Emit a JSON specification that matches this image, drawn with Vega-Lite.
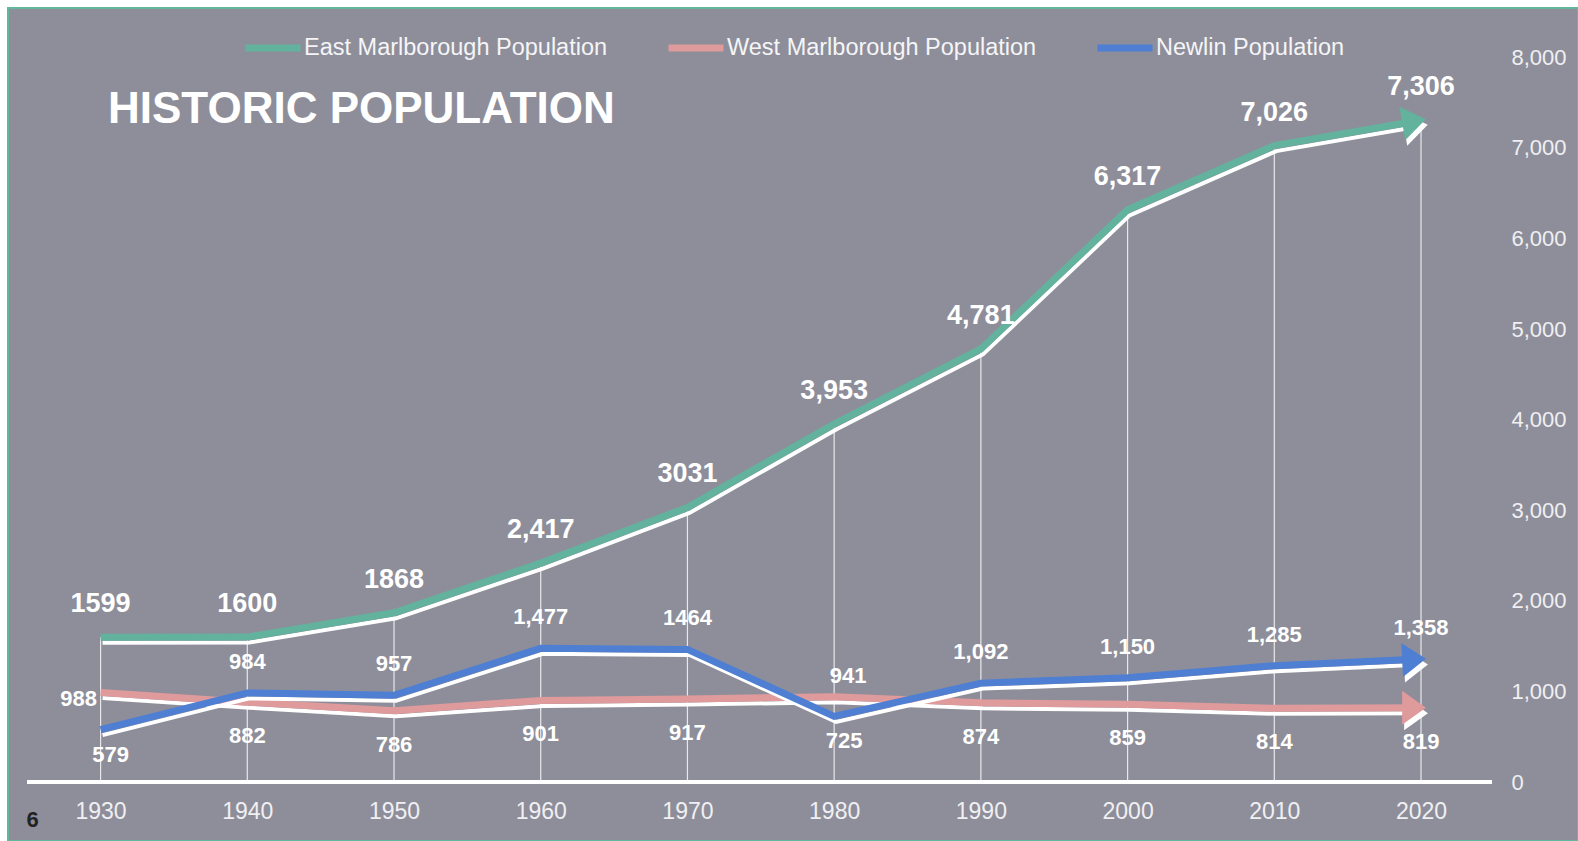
{
  "$schema": "https://vega.github.io/schema/vega-lite/v6.json",
  "autosize": {"type": "none"},
  "padding": {"left": 8, "top": 8, "right": 0, "bottom": 0},
  "width": 1570,
  "height": 833,
  "background": "#ffffff",
  "config": {
    "font": "Liberation Sans",
    "view": {"fill": "#8e8e9a", "stroke": "#62b89e", "strokeWidth": 2}
  },
  "title": {
    "text": "HISTORIC POPULATION",
    "orient": "top",
    "anchor": "start",
    "frame": "group",
    "offset": 0,
    "dx": 100,
    "dy": 146,
    "baseline": "middle",
    "fontSize": 44,
    "fontWeight": "bold",
    "color": "#ffffff"
  },
  "data": {
    "values": [
      {"year": 1930, "series": "East Marlborough Population", "value": 1599, "label": "1599"},
      {"year": 1940, "series": "East Marlborough Population", "value": 1600, "label": "1600"},
      {"year": 1950, "series": "East Marlborough Population", "value": 1868, "label": "1868"},
      {"year": 1960, "series": "East Marlborough Population", "value": 2417, "label": "2,417"},
      {"year": 1970, "series": "East Marlborough Population", "value": 3031, "label": "3031"},
      {"year": 1980, "series": "East Marlborough Population", "value": 3953, "label": "3,953"},
      {"year": 1990, "series": "East Marlborough Population", "value": 4781, "label": "4,781"},
      {"year": 2000, "series": "East Marlborough Population", "value": 6317, "label": "6,317"},
      {"year": 2010, "series": "East Marlborough Population", "value": 7026, "label": "7,026"},
      {"year": 2020, "series": "East Marlborough Population", "value": 7306, "label": "7,306"},
      {"year": 1930, "series": "West Marlborough Population", "value": 988, "label": "988"},
      {"year": 1940, "series": "West Marlborough Population", "value": 882, "label": "882"},
      {"year": 1950, "series": "West Marlborough Population", "value": 786, "label": "786"},
      {"year": 1960, "series": "West Marlborough Population", "value": 901, "label": "901"},
      {"year": 1970, "series": "West Marlborough Population", "value": 917, "label": "917"},
      {"year": 1980, "series": "West Marlborough Population", "value": 941, "label": "941"},
      {"year": 1990, "series": "West Marlborough Population", "value": 874, "label": "874"},
      {"year": 2000, "series": "West Marlborough Population", "value": 859, "label": "859"},
      {"year": 2010, "series": "West Marlborough Population", "value": 814, "label": "814"},
      {"year": 2020, "series": "West Marlborough Population", "value": 819, "label": "819"},
      {"year": 1930, "series": "Newlin Population", "value": 579, "label": "579"},
      {"year": 1940, "series": "Newlin Population", "value": 984, "label": "984"},
      {"year": 1950, "series": "Newlin Population", "value": 957, "label": "957"},
      {"year": 1960, "series": "Newlin Population", "value": 1477, "label": "1,477"},
      {"year": 1970, "series": "Newlin Population", "value": 1464, "label": "1464"},
      {"year": 1980, "series": "Newlin Population", "value": 725, "label": "725"},
      {"year": 1990, "series": "Newlin Population", "value": 1092, "label": "1,092"},
      {"year": 2000, "series": "Newlin Population", "value": 1150, "label": "1,150"},
      {"year": 2010, "series": "Newlin Population", "value": 1285, "label": "1,285"},
      {"year": 2020, "series": "Newlin Population", "value": 1358, "label": "1,358"}
    ]
  },
  "encoding": {
    "x": {
      "field": "year", "type": "quantitative",
      "scale": {"domain": [1923.69, 2030.7], "nice": false, "zero": false},
      "axis": {
        "orient": "bottom", "offset": -45, "values": [1930, 1940, 1950, 1960, 1970, 1980, 1990, 2000, 2010, 2020],
        "format": "d", "labelFontSize": 23, "labelColor": "#f0f0f2", "labelPadding": 4,
        "domain": false, "ticks": false, "grid": false,
        "title": "6", "titleFontSize": 22, "titleFontWeight": "bold", "titleColor": "#222222",
        "titleAnchor": "start", "titleAlign": "center", "titleBaseline": "middle", "titleX": 24, "titleY": 23
      }
    },
    "y": {
      "field": "value", "type": "quantitative",
      "scale": {"domain": [-651, 8545], "nice": false, "zero": false},
      "axis": {
        "orient": "right", "offset": -67, "values": [0, 1000, 2000, 3000, 4000, 5000, 6000, 7000, 8000],
        "format": ",.0f", "labelFontSize": 22, "labelColor": "#f0f0f2", "labelPadding": 0,
        "labelAlign": "left", "labelBaseline": "middle",
        "domain": false, "ticks": false, "grid": false, "title": null
      }
    }
  },
  "layer": [
    {
      "transform": [{"filter": "datum.series == 'East Marlborough Population'"}],
      "mark": {"type": "rule", "color": "#ffffff", "strokeWidth": 1.2, "opacity": 0.8},
      "encoding": {"y2": {"datum": 0}}
    },
    {
      "mark": {"type": "rule", "color": "#ffffff", "strokeWidth": 3},
      "encoding": {
        "x": {"datum": 1925, "type": "quantitative"},
        "x2": {"datum": 2024.8},
        "y": {"datum": 0, "type": "quantitative"}
      }
    },
    {
      "transform": [{"filter": "datum.series == 'West Marlborough Population'"}],
      "mark": {"type": "line", "color": "#ffffff", "strokeWidth": 4, "xOffset": 2, "yOffset": 5.5},
      "encoding": {}
    },
    {
      "transform": [{"filter": "datum.series == 'West Marlborough Population'"}],
      "mark": {"type": "line", "strokeWidth": 7},
      "encoding": {
        "color": {
          "field": "series", "type": "nominal",
          "scale": {"domain": ["East Marlborough Population", "West Marlborough Population", "Newlin Population"], "range": ["#62b29e", "#df9a9c", "#4f7fd3"]},
          "legend": {
            "orient": "none", "legendX": 234, "legendY": 9, "direction": "horizontal", "title": null,
            "symbolType": "stroke", "symbolSize": 3025, "symbolStrokeWidth": 7,
            "labelFontSize": 23.5, "labelColor": "#f5f5f7", "labelOffset": 0, "labelLimit": 0, "columnPadding": 46, "padding": 0
          }
        }
      }
    },
    {
      "transform": [{"filter": "datum.series == 'West Marlborough Population' && datum.year == 2020"}],
      "mark": {"type": "point", "shape": "M-0.7,-1L0.7,0L-0.7,1Z", "filled": true, "opacity": 1, "color": "#ffffff", "size": 1156, "angle": 0, "xOffset": -5, "yOffset": 5.5}
    },
    {
      "transform": [{"filter": "datum.series == 'West Marlborough Population' && datum.year == 2020"}],
      "mark": {"type": "point", "shape": "M-0.7,-1L0.7,0L-0.7,1Z", "filled": true, "opacity": 1, "color": "#df9a9c", "size": 1156, "angle": 0, "xOffset": -7, "yOffset": 0}
    },
    {
      "transform": [{"filter": "datum.series == 'Newlin Population'"}],
      "mark": {"type": "line", "color": "#ffffff", "strokeWidth": 4, "xOffset": 2, "yOffset": 5.5},
      "encoding": {}
    },
    {
      "transform": [{"filter": "datum.series == 'Newlin Population'"}],
      "mark": {"type": "line", "strokeWidth": 7},
      "encoding": {"color": {"field": "series", "type": "nominal"}}
    },
    {
      "transform": [{"filter": "datum.series == 'Newlin Population' && datum.year == 2020"}],
      "mark": {"type": "point", "shape": "M-0.7,-1L0.7,0L-0.7,1Z", "filled": true, "opacity": 1, "color": "#ffffff", "size": 1156, "angle": -3, "xOffset": -5, "yOffset": 6}
    },
    {
      "transform": [{"filter": "datum.series == 'Newlin Population' && datum.year == 2020"}],
      "mark": {"type": "point", "shape": "M-0.7,-1L0.7,0L-0.7,1Z", "filled": true, "opacity": 1, "color": "#4f7fd3", "size": 1156, "angle": -3, "xOffset": -7, "yOffset": 0.4}
    },
    {
      "transform": [{"filter": "datum.series == 'East Marlborough Population'"}],
      "mark": {"type": "line", "color": "#ffffff", "strokeWidth": 4, "xOffset": 2, "yOffset": 5.5},
      "encoding": {}
    },
    {
      "transform": [{"filter": "datum.series == 'East Marlborough Population'"}],
      "mark": {"type": "line", "strokeWidth": 7},
      "encoding": {"color": {"field": "series", "type": "nominal"}}
    },
    {
      "transform": [{"filter": "datum.series == 'East Marlborough Population' && datum.year == 2020"}],
      "mark": {"type": "point", "shape": "M-0.7,-1L0.7,0L-0.7,1Z", "filled": true, "opacity": 1, "color": "#ffffff", "size": 1156, "angle": -10, "xOffset": -5, "yOffset": 6.7}
    },
    {
      "transform": [{"filter": "datum.series == 'East Marlborough Population' && datum.year == 2020"}],
      "mark": {"type": "point", "shape": "M-0.7,-1L0.7,0L-0.7,1Z", "filled": true, "opacity": 1, "color": "#62b29e", "size": 1156, "angle": -10, "xOffset": -7, "yOffset": 1.2}
    },
    {
      "transform": [{"filter": "datum.series == 'East Marlborough Population'"}],
      "mark": {"type": "text", "fontSize": 27, "fontWeight": "bold", "color": "#ffffff", "baseline": "middle", "align": "center", "dy": -33},
      "encoding": {"text": {"field": "label"}}
    },
    {
      "transform": [{"filter": "datum.series == 'Newlin Population' && datum.year != 1930 && datum.year != 1980"}],
      "mark": {"type": "text", "fontSize": 22, "fontWeight": "bold", "color": "#ffffff", "baseline": "middle", "align": "center", "dy": -31},
      "encoding": {"text": {"field": "label"}}
    },
    {
      "transform": [{"filter": "datum.series == 'Newlin Population' && (datum.year == 1930 || datum.year == 1980)"}],
      "mark": {"type": "text", "fontSize": 22, "fontWeight": "bold", "color": "#ffffff", "baseline": "middle", "align": "center", "dy": 25, "dx": 10},
      "encoding": {"text": {"field": "label"}}
    },
    {
      "transform": [{"filter": "datum.series == 'West Marlborough Population' && datum.year != 1930 && datum.year != 1980"}],
      "mark": {"type": "text", "fontSize": 22, "fontWeight": "bold", "color": "#ffffff", "baseline": "middle", "align": "center", "dy": 34},
      "encoding": {"text": {"field": "label"}}
    },
    {
      "transform": [{"filter": "datum.series == 'West Marlborough Population' && datum.year == 1980"}],
      "mark": {"type": "text", "fontSize": 22, "fontWeight": "bold", "color": "#ffffff", "baseline": "middle", "align": "center", "dy": -21, "dx": 14},
      "encoding": {"text": {"field": "label"}}
    },
    {
      "transform": [{"filter": "datum.series == 'West Marlborough Population' && datum.year == 1930"}],
      "mark": {"type": "text", "fontSize": 22, "fontWeight": "bold", "color": "#ffffff", "baseline": "middle", "align": "center", "dy": 6, "dx": -22},
      "encoding": {"text": {"field": "label"}}
    }
  ]
}
